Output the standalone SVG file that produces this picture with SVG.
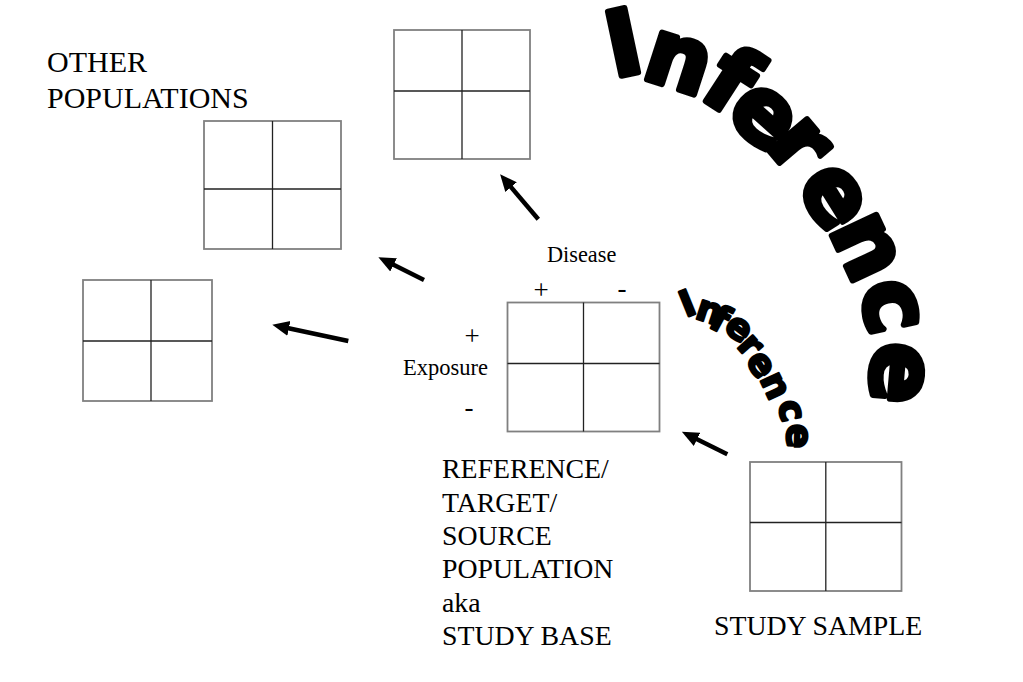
<svg xmlns="http://www.w3.org/2000/svg" width="1023" height="682" viewBox="0 0 1023 682">
<defs>
<style>
.frame{fill:#fff;stroke:#808080;stroke-width:1.8}
.div{stroke:#222;stroke-width:1.3;fill:none}
.lbl{font-family:"Liberation Serif","Times New Roman",serif;fill:#000}
.arr{stroke:#000;stroke-width:4.5;fill:none;marker-end:url(#ah)}
.inf{font-family:"DejaVu Sans","Liberation Sans",Arial,sans-serif;font-weight:bold;fill:#000;stroke:#000;stroke-linejoin:round}
</style>
<marker id="ah" markerUnits="userSpaceOnUse" markerWidth="19" markerHeight="17" refX="4" refY="8.5" orient="auto" viewBox="0 0 19 17">
<path d="M0,1 L17,8.5 L0,16 z" fill="#000"/>
</marker>
</defs>
<rect width="1023" height="682" fill="#fff"/>

<g id="other-populations-label">
<text class="lbl" x="47" y="72" font-size="30">OTHER</text>
<text class="lbl" x="47" y="108" font-size="30">POPULATIONS</text>
</g>

<g id="table-top">
<rect class="frame" x="394" y="30" width="136" height="129"/>
<path class="div" d="M462,30 V159 M394,91 H530"/>
</g>

<g id="table-mid">
<rect class="frame" x="204" y="121" width="137" height="128"/>
<path class="div" d="M272.5,121 V249 M204,189 H341"/>
</g>

<g id="table-left">
<rect class="frame" x="83" y="280" width="129" height="121"/>
<path class="div" d="M151,280 V401 M83,341 H212"/>
</g>

<g id="table-reference">
<rect class="frame" x="507.5" y="302.5" width="152" height="129"/>
<path class="div" d="M583.5,302.5 V431.5 M507.5,363.5 H659.5"/>
<text class="lbl" x="547" y="262" font-size="22.3">Disease</text>
<text class="lbl" x="541" y="298.5" font-size="27" text-anchor="middle">+</text>
<text class="lbl" x="622" y="297" font-size="27" text-anchor="middle">-</text>
<text class="lbl" x="472" y="344.5" font-size="27" text-anchor="middle">+</text>
<text class="lbl" x="403" y="375" font-size="22.5">Exposure</text>
<text class="lbl" x="469" y="416" font-size="27" text-anchor="middle">-</text>
<text class="lbl" font-size="27.8">
<tspan x="442" y="478">REFERENCE/</tspan>
<tspan x="442" y="511.5">TARGET/</tspan>
<tspan x="442" y="545">SOURCE</tspan>
<tspan x="442" y="578">POPULATION</tspan>
<tspan x="442" y="611.5">aka</tspan>
<tspan x="442" y="645">STUDY BASE</tspan>
</text>
</g>

<g id="table-study-sample">
<rect class="frame" x="750" y="462" width="151.5" height="129"/>
<path class="div" d="M825.8,462 V591 M750,522.5 H901.5"/>
<text class="lbl" x="714" y="635" font-size="27.8">STUDY SAMPLE</text>
</g>

<g id="connectors">
<line class="arr" x1="538.3" y1="219.3" x2="508.5" y2="184.1"/>
<line class="arr" x1="424" y1="280" x2="390" y2="263.1"/>
<line class="arr" x1="348.3" y1="341" x2="285" y2="327.5"/>
<line class="arr" x1="727.3" y1="454.3" x2="693.5" y2="437.6"/>
</g>

<g id="inference-large">
<text class="inf" font-size="90" stroke-width="6" x="613.5 639.8 697.75 723.5 764.6 795.5 828.6 859.7 874.55" y="77.6 77.1 95.9 115.3 145.05 184.5 228.7 285.8 340.4" rotate="-12 18 33 42 50 58 65 78 95">Inference</text>
</g>

<g id="inference-small">
<text class="inf" font-size="36" stroke-width="2.5" x="685.7 694 707.6 722.6 735.9 744.9 759.5 777.8 787.4" y="317.5 318 326.3 329.4 346.3 360.3 378.65 402.7 423.5" rotate="-22 18 28 38 48 57 65 77 92">Inference</text>
</g>
</svg>
